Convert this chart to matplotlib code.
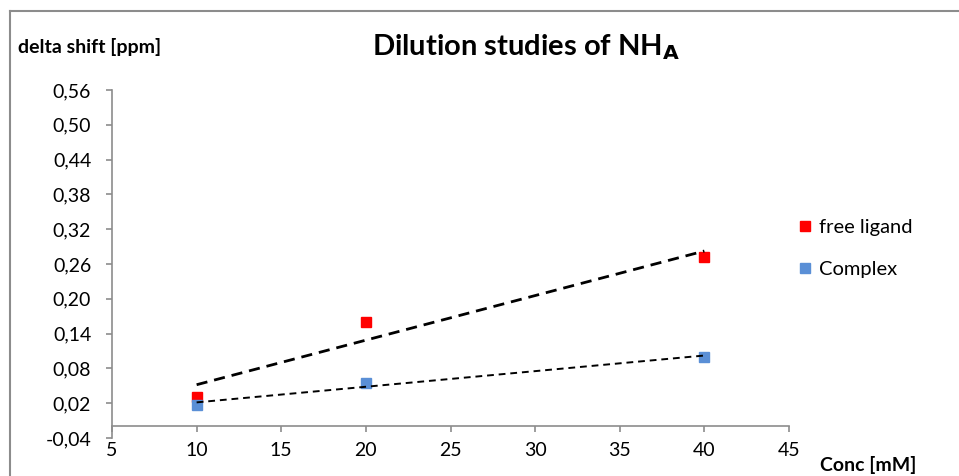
import numpy as np
import matplotlib
matplotlib.use("Agg")
from matplotlib import pyplot as plt
from matplotlib.lines import Line2D
from matplotlib.ticker import FuncFormatter

plt.rcParams['font.family'] = ['Lato', 'DejaVu Sans']

conc = [10, 20, 40]
free_ligand = [0.031, 0.160, 0.272]
complex_shift = [0.017, 0.055, 0.100]
series_names = ["free ligand", "Complex"]

W, H = 959, 476
fig = plt.figure(figsize=(W / 100, H / 100), dpi=100)
ax = fig.add_axes([112 / W, 1 - 438 / H, (789 - 112) / W, (438 - 90) / H])

# outer chart frame (only top and left edges visible)
fig.add_artist(Line2D([10 / W, 10 / W], [0, 1 - 11 / H], color='#8c8c8c', lw=1.5))
fig.add_artist(Line2D([10 / W, 1], [1 - 11 / H, 1 - 11 / H], color='#8c8c8c', lw=1.5))

red = '#ff0000'
blue = '#5a8fd6'
ax.plot(conc, free_ligand, 's', color=red, ms=6.5, label=series_names[0], zorder=3)
ax.plot(conc, complex_shift, 's', color=blue, ms=6.5, label=series_names[1], zorder=3)

# linear trendlines
xs = np.array([conc[0], conc[-1]])
p1 = np.polyfit(conc, free_ligand, 1)
p2 = np.polyfit(conc, complex_shift, 1)
ax.plot(xs, np.polyval(p1, xs), color='black', lw=2.0, dashes=(4, 2.5), zorder=4)
ax.plot(xs, np.polyval(p2, xs), color='black', lw=1.4, dashes=(3.5, 2.5), zorder=4)

ax.set_xlim(5, 45)
ax.set_ylim(-0.04, 0.56)
ax.set_xticks(np.arange(5, 46, 5))
ax.set_yticks(np.arange(-0.04, 0.57, 0.06))
ax.yaxis.set_major_formatter(FuncFormatter(lambda v, p: f"{v:.2f}".replace('.', ',')))

for s in ['top', 'right']:
    ax.spines[s].set_visible(False)
ax.spines['bottom'].set_position(('data', -0.02))
for s in ['left', 'bottom']:
    ax.spines[s].set_color('#8c8c8c')
    ax.spines[s].set_linewidth(1.2)
ax.tick_params(axis='both', direction='out', length=4, width=1.2, color='#8c8c8c',
               labelsize=14, labelcolor='black')
ax.tick_params(axis='y', pad=11)
ax.tick_params(axis='x', pad=7)

fig.text(18 / W, 1 - 47 / H, "delta shift [ppm]", fontsize=14, fontweight='bold', va='center')
fig.text(820 / W, 1 - 465 / H, "Conc [mM]", fontsize=14, fontweight='bold', va='center')
fig.text(526 / W, 1 - 47 / H, r"Dilution studies of NH$_\mathbf{A}$", fontsize=21,
         fontweight='bold', ha='center', va='center')

ax.legend(loc='upper left', bbox_to_anchor=(789 / W, 1 - 209 / H), bbox_transform=fig.transFigure,
          frameon=False, fontsize=14.5, handlelength=0.6, handletextpad=0.4, labelspacing=1.25,
          borderpad=0)

fig.savefig("out.png", dpi=100)
